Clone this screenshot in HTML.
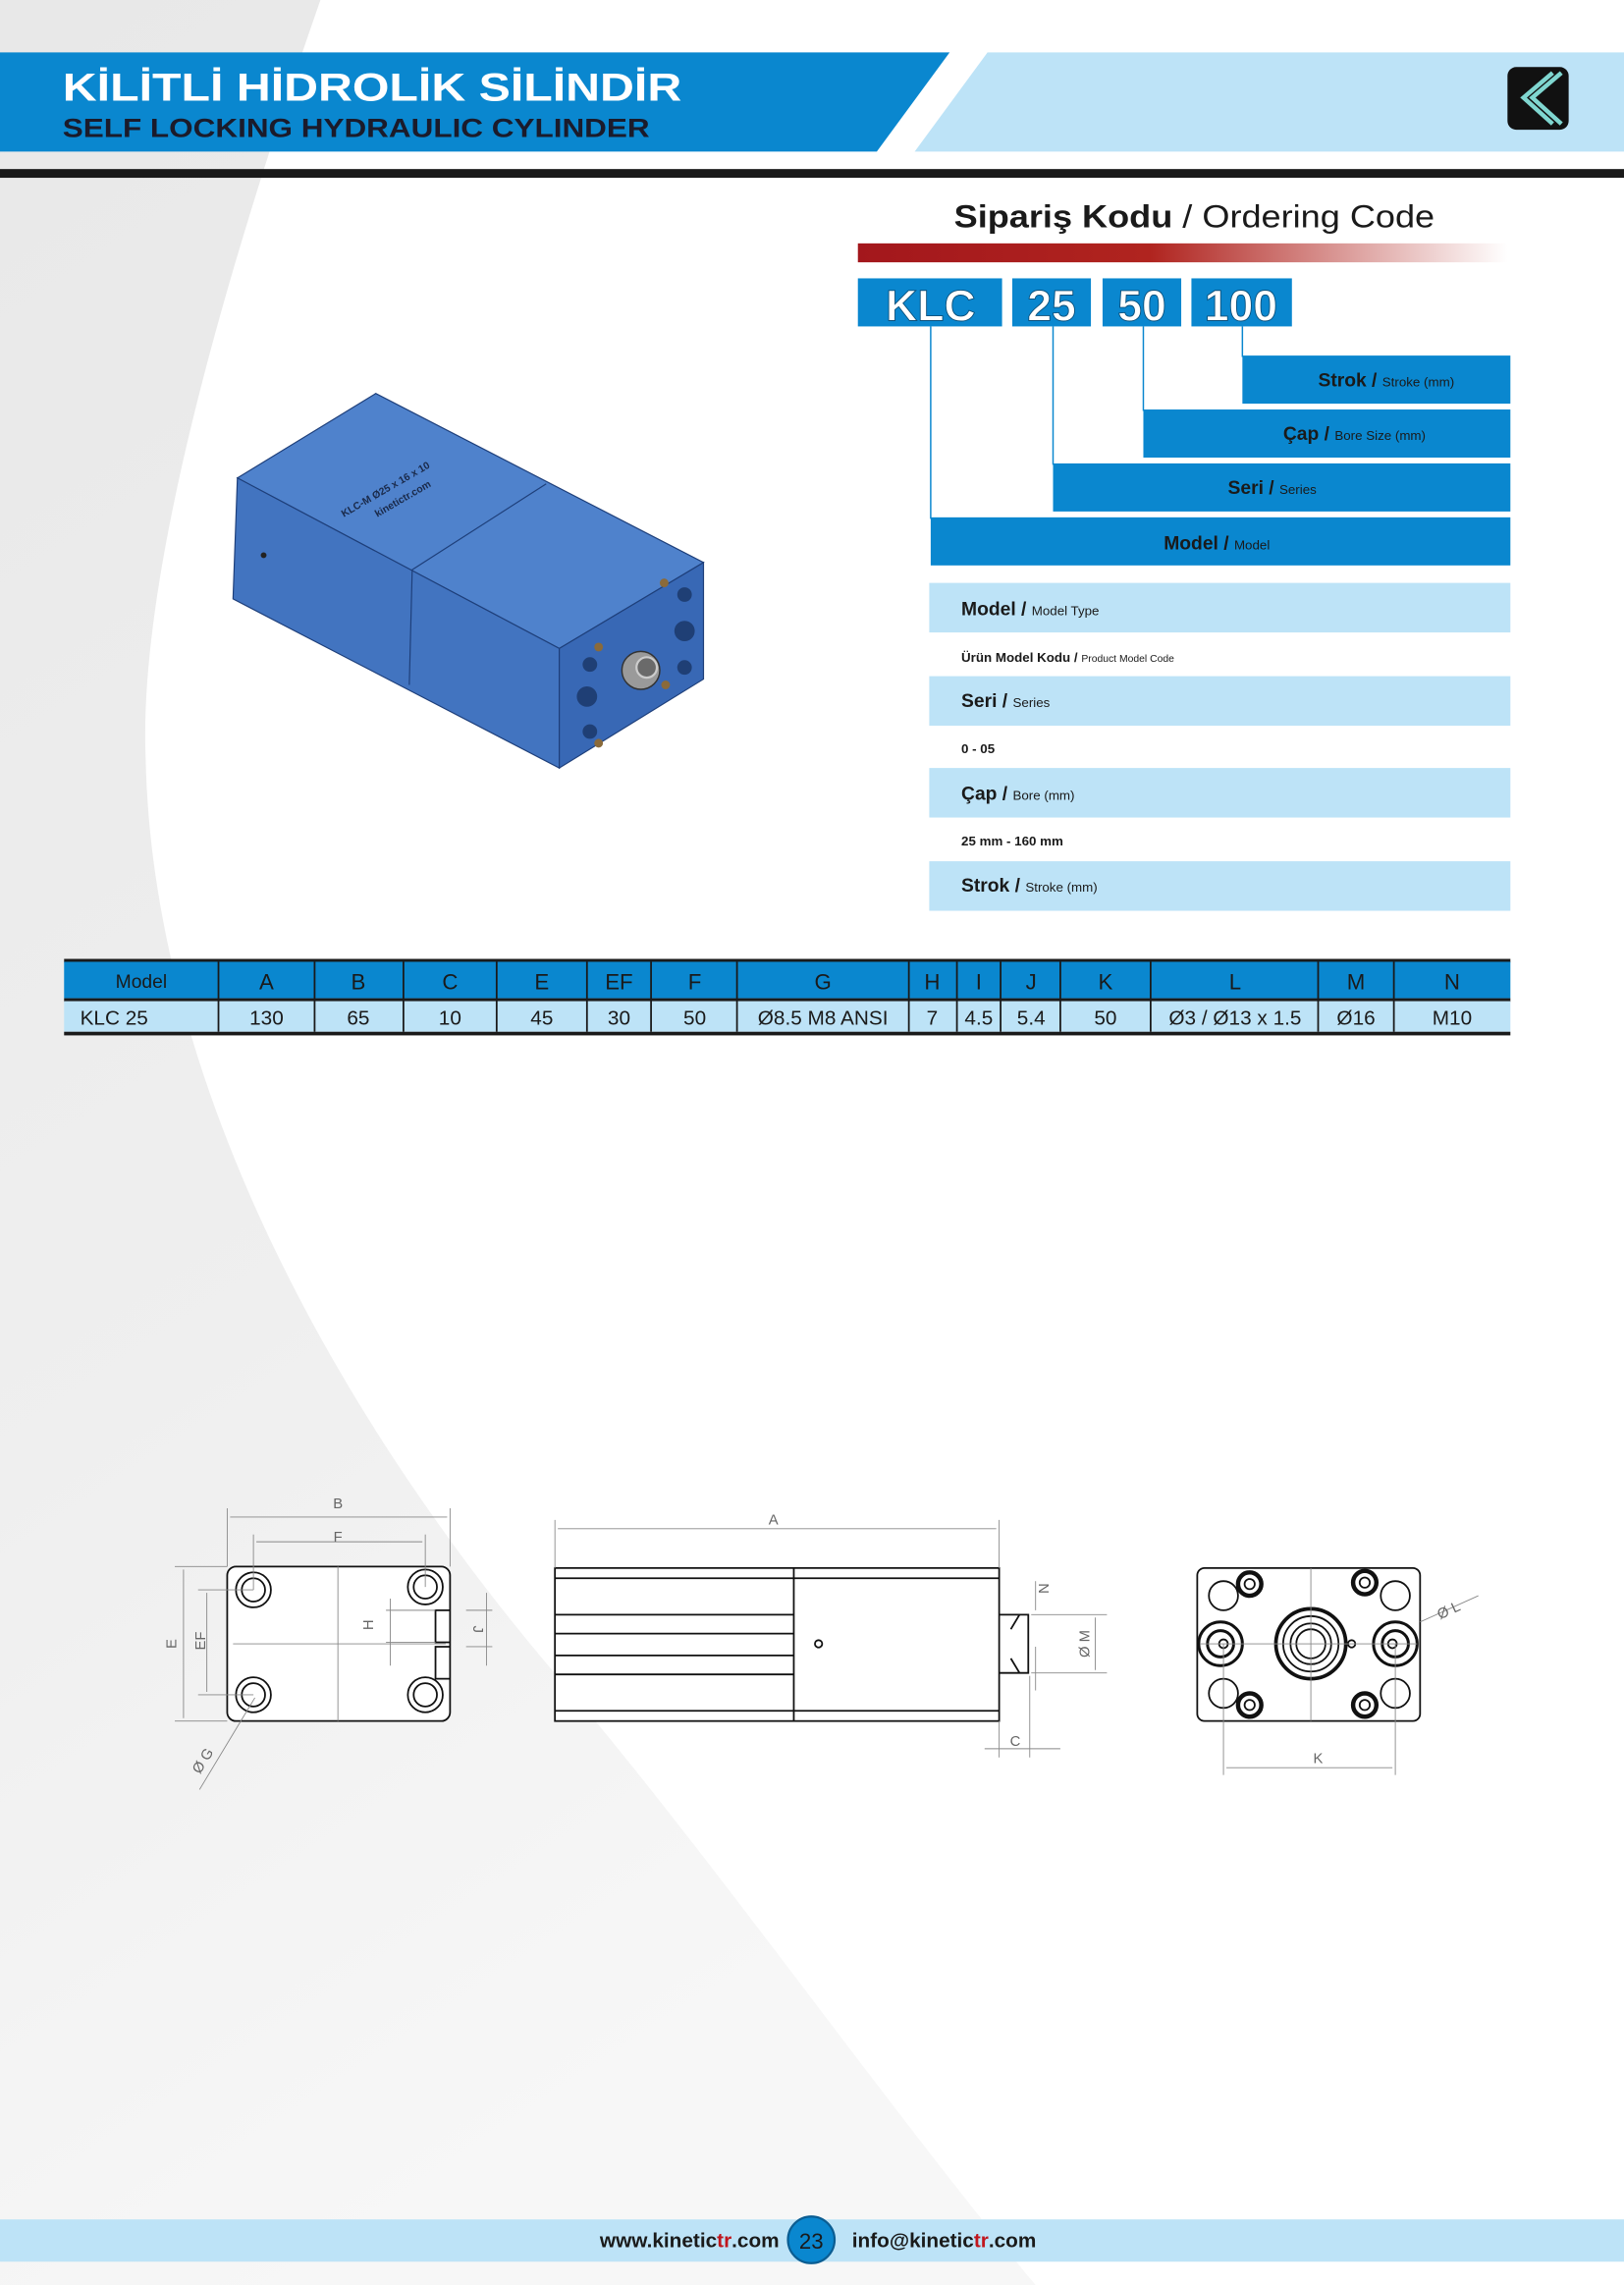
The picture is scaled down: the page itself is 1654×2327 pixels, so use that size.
<!DOCTYPE html>
<html><head><meta charset="utf-8"><style>
html,body{margin:0;padding:0;background:#fff;width:1654px;height:2327px;overflow:hidden}
svg{display:block}
text{font-family:"Liberation Sans","DejaVu Sans",sans-serif}
</style></head><body>
<svg width="1654" height="2327" viewBox="0 0 1115 1568" preserveAspectRatio="none" xmlns="http://www.w3.org/2000/svg">
<defs>
<linearGradient id="rg" x1="0" x2="1"><stop offset="0" stop-color="#a3171c"/><stop offset="0.45" stop-color="#b0241f"/><stop offset="1" stop-color="#ffffff"/></linearGradient>
<linearGradient id="bg" x1="0" y1="0" x2="0.3" y2="1"><stop offset="0" stop-color="#e8e8e8"/><stop offset="0.6" stop-color="#efefef"/><stop offset="1" stop-color="#f7f7f7"/></linearGradient>
</defs>
<!-- background -->
<rect width="1115" height="1568" fill="#fff"/>
<path d="M0,0 L220,0 C150,200 95,400 100,520 C105,760 250,1000 398,1168 C500,1290 620,1460 711,1568 L0,1568 Z" fill="url(#bg)"/>
<!-- header -->
<polygon points="0,36 652,36 602,104 0,104" fill="#0a87cf"/>
<polygon points="678,36 1115,36 1115,104 628,104" fill="#bde3f7"/>
<rect x="1035" y="46" width="42" height="43" rx="6" fill="#111"/>
<polyline points="1066,50 1046,67 1066,85" fill="none" stroke="#7fd6d0" stroke-width="3"/>
<polyline points="1072,50 1052,67 1072,85" fill="none" stroke="#7fd6d0" stroke-width="3"/>
<text x="43" y="69" font-size="27" font-weight="bold" fill="#fff" textLength="425" lengthAdjust="spacingAndGlyphs">KİLİTLİ HİDROLİK SİLİNDİR</text>
<text x="43" y="94" font-size="18" font-weight="bold" fill="#1b1b2b" textLength="403" lengthAdjust="spacingAndGlyphs">SELF LOCKING  HYDRAULIC CYLINDER</text>
<rect x="0" y="116" width="1115" height="6" fill="#1a1a1a"/>
<!-- ordering code -->
<text x="655" y="156" font-size="22" fill="#1a1a1a" textLength="330" lengthAdjust="spacingAndGlyphs"><tspan font-weight="bold">Sipariş Kodu</tspan> / Ordering Code</text>
<rect x="589" y="167" width="446" height="13" fill="url(#rg)"/>
<g fill="#0a87cf">
<rect x="589" y="191" width="99" height="33"/><rect x="695" y="191" width="54" height="33"/>
<rect x="757" y="191" width="54" height="33"/><rect x="818" y="191" width="69" height="33"/>
</g>
<g font-size="30" font-weight="bold" fill="#fff" stroke="#0b4f7a" stroke-width="0.6" text-anchor="middle">
<text x="639" y="220">KLC</text><text x="722" y="220">25</text><text x="784" y="220">50</text><text x="852" y="220">100</text>
</g>
<g stroke="#0a87cf" stroke-width="1" fill="none">
<line x1="639" y1="224" x2="639" y2="356"/><line x1="723" y1="224" x2="723" y2="319"/>
<line x1="785" y1="224" x2="785" y2="282"/><line x1="853" y1="224" x2="853" y2="245"/>
</g>
<g fill="#0a87cf">
<rect x="853" y="244" width="184" height="33"/><rect x="785" y="281" width="252" height="33"/>
<rect x="723" y="318" width="314" height="33"/><rect x="639" y="355" width="398" height="33"/>
</g>
<g fill="#1a1a1a">
<text x="905" y="265" font-size="13" font-weight="bold">Strok / <tspan font-size="9" font-weight="normal">Stroke (mm)</tspan></text>
<text x="881" y="302" font-size="13" font-weight="bold">Çap / <tspan font-size="9" font-weight="normal">Bore Size (mm)</tspan></text>
<text x="843" y="339" font-size="13" font-weight="bold">Seri / <tspan font-size="9" font-weight="normal">Series</tspan></text>
<text x="799" y="377" font-size="13" font-weight="bold">Model / <tspan font-size="9" font-weight="normal">Model</tspan></text>
</g>
<g fill="#bde3f7">
<rect x="638" y="400" width="399" height="34"/><rect x="638" y="464" width="399" height="34"/>
<rect x="638" y="527" width="399" height="34"/><rect x="638" y="591" width="399" height="34"/>
</g>
<g fill="#1a1a1a">
<text x="660" y="422" font-size="13" font-weight="bold">Model / <tspan font-size="9" font-weight="normal">Model Type</tspan></text>
<text x="660" y="454" font-size="9" font-weight="bold">Ürün Model Kodu / <tspan font-size="7" font-weight="normal">Product Model Code</tspan></text>
<text x="660" y="485" font-size="13" font-weight="bold">Seri / <tspan font-size="9" font-weight="normal">Series</tspan></text>
<text x="660" y="517" font-size="9" font-weight="bold">0 - 05</text>
<text x="660" y="549" font-size="13" font-weight="bold">Çap / <tspan font-size="9" font-weight="normal">Bore (mm)</tspan></text>
<text x="660" y="580" font-size="9" font-weight="bold">25 mm - 160 mm</text>
<text x="660" y="612" font-size="13" font-weight="bold">Strok / <tspan font-size="9" font-weight="normal">Stroke (mm)</tspan></text>
</g>
<!-- product -->
<polygon points="163,328 258,270 483,386 384,445" fill="#4f82cc" stroke="#1e3f7a" stroke-width="0.8"/>
<polygon points="163,328 384,445 384,527 160,411" fill="#4274c0" stroke="#1e3f7a" stroke-width="0.8"/>
<polygon points="384,445 483,386 483,466 384,527" fill="#3868b5" stroke="#1e3f7a" stroke-width="0.8"/>
<polyline points="375,332 283,391 281,470" fill="none" stroke="#1e3f7a" stroke-width="0.8"/>
<circle cx="181" cy="381" r="2" fill="#222"/>
<text x="0" y="0" font-size="7" font-weight="bold" fill="#1a2a4a" transform="translate(236,355) rotate(-30)">KLC-M Ø25 x 16 x 10</text>
<text x="0" y="0" font-size="7" font-weight="bold" fill="#1a2a4a" transform="translate(259,355) rotate(-30)">kinetictr.com</text>
<g fill="#1f3f75">
<circle cx="405" cy="456" r="5"/><circle cx="470" cy="408" r="5"/><circle cx="405" cy="502" r="5"/><circle cx="470" cy="458" r="5"/>
<circle cx="403" cy="478" r="7"/><circle cx="470" cy="433" r="7"/>
</g>
<g fill="#8a6a3a"><circle cx="411" cy="444" r="3"/><circle cx="456" cy="400" r="3"/><circle cx="411" cy="510" r="3"/><circle cx="457" cy="470" r="3"/></g>
<circle cx="440" cy="460" r="13" fill="#9a9a9a" stroke="#333" stroke-width="1"/>
<circle cx="444" cy="458" r="7" fill="#6a6a6a" stroke="#ccc" stroke-width="1.5"/>
<!-- table -->
<rect x="44" y="658" width="993" height="2.5" fill="#1a1a1a"/>
<rect x="44" y="660" width="993" height="25" fill="#0a87cf"/>
<rect x="44" y="685" width="993" height="2.5" fill="#1a1a1a"/>
<rect x="44" y="687" width="993" height="21" fill="#bde3f7"/>
<rect x="44" y="708" width="993" height="2.5" fill="#1a1a1a"/>
<g stroke="#1a1a1a" stroke-width="1.2">
<line x1="150" y1="660" x2="150" y2="708"/><line x1="216" y1="660" x2="216" y2="708"/><line x1="277" y1="660" x2="277" y2="708"/>
<line x1="341" y1="660" x2="341" y2="708"/><line x1="403" y1="660" x2="403" y2="708"/><line x1="447" y1="660" x2="447" y2="708"/>
<line x1="506" y1="660" x2="506" y2="708"/><line x1="624" y1="660" x2="624" y2="708"/><line x1="657" y1="660" x2="657" y2="708"/>
<line x1="687" y1="660" x2="687" y2="708"/><line x1="728" y1="660" x2="728" y2="708"/><line x1="790" y1="660" x2="790" y2="708"/>
<line x1="905" y1="660" x2="905" y2="708"/><line x1="957" y1="660" x2="957" y2="708"/>
</g>
<g font-size="15" fill="#1a1a1a" text-anchor="middle">
<text x="97" y="678" font-size="13">Model</text><text x="183" y="679">A</text><text x="246" y="679">B</text><text x="309" y="679">C</text>
<text x="372" y="679">E</text><text x="425" y="679">EF</text><text x="477" y="679">F</text><text x="565" y="679">G</text>
<text x="640" y="679">H</text><text x="672" y="679">I</text><text x="708" y="679">J</text><text x="759" y="679">K</text>
<text x="848" y="679">L</text><text x="931" y="679">M</text><text x="997" y="679">N</text>
</g>
<g font-size="14" fill="#1a1a1a" text-anchor="middle">
<text x="55" y="703" text-anchor="start">KLC 25</text><text x="183" y="703">130</text><text x="246" y="703">65</text><text x="309" y="703">10</text>
<text x="372" y="703">45</text><text x="425" y="703">30</text><text x="477" y="703">50</text><text x="565" y="703">Ø8.5 M8 ANSI</text>
<text x="640" y="703">7</text><text x="672" y="703">4.5</text><text x="708" y="703">5.4</text><text x="759" y="703">50</text>
<text x="848" y="703">Ø3 / Ø13 x 1.5</text><text x="931" y="703">Ø16</text><text x="997" y="703">M10</text>
</g>
<!-- drawings: left view -->
<g fill="none" stroke="#111" stroke-width="1.2">
<rect x="156" y="1075" width="153" height="106" rx="6" fill="#fff"/>
<circle cx="174" cy="1091" r="12"/><circle cx="174" cy="1091" r="8"/>
<circle cx="292" cy="1089" r="12"/><circle cx="292" cy="1089" r="8"/>
<circle cx="174" cy="1163" r="12"/><circle cx="174" cy="1163" r="8"/>
<circle cx="292" cy="1163" r="12"/><circle cx="292" cy="1163" r="8"/>
<path d="M309,1105 h-10 v22 h10 M309,1130 h-10 v22 h10"/>
</g>
<g stroke="#888" stroke-width="0.6" fill="none">
<line x1="232" y1="1075" x2="232" y2="1181"/><line x1="160" y1="1128" x2="306" y2="1128"/>
<line x1="156" y1="1035" x2="156" y2="1075"/><line x1="309" y1="1035" x2="309" y2="1075"/>
<line x1="158" y1="1041" x2="307" y2="1041"/>
<line x1="174" y1="1053" x2="174" y2="1091"/><line x1="292" y1="1053" x2="292" y2="1089"/>
<line x1="176" y1="1058" x2="290" y2="1058"/>
<line x1="120" y1="1075" x2="156" y2="1075"/><line x1="120" y1="1181" x2="156" y2="1181"/>
<line x1="126" y1="1077" x2="126" y2="1179"/>
<line x1="136" y1="1091" x2="174" y2="1091"/><line x1="136" y1="1163" x2="174" y2="1163"/>
<line x1="142" y1="1093" x2="142" y2="1161"/>
<line x1="265" y1="1105" x2="299" y2="1105"/><line x1="265" y1="1127" x2="299" y2="1127"/>
<line x1="268" y1="1097" x2="268" y2="1143"/>
<line x1="320" y1="1105" x2="338" y2="1105"/><line x1="320" y1="1130" x2="338" y2="1130"/>
<line x1="334" y1="1093" x2="334" y2="1143"/>
<line x1="175" y1="1165" x2="137" y2="1228"/>
</g>
<g font-size="10" fill="#666" text-anchor="middle">
<text x="232" y="1035">B</text><text x="232" y="1058">F</text>
<text transform="translate(121,1128) rotate(-90)">E</text><text transform="translate(141,1126) rotate(-90)">EF</text>
<text transform="translate(256,1115) rotate(-90)">H</text><text transform="translate(325,1118) rotate(90)">J</text>
<text transform="translate(142,1210) rotate(-58)">Ø G</text>
</g>
<!-- middle view -->
<g fill="none" stroke="#111" stroke-width="1.2">
<rect x="381" y="1076" width="305" height="105" fill="#fff"/>
<line x1="545" y1="1076" x2="545" y2="1181"/>
<line x1="381" y1="1083" x2="686" y2="1083"/><line x1="381" y1="1174" x2="686" y2="1174"/>
<line x1="381" y1="1108" x2="545" y2="1108"/><line x1="381" y1="1121" x2="545" y2="1121"/>
<line x1="381" y1="1136" x2="545" y2="1136"/><line x1="381" y1="1149" x2="545" y2="1149"/>
<circle cx="562" cy="1128" r="2.5"/>
<path d="M686,1108 h20 v40 h-20 M700,1108 l-6,10 M700,1148 l-6,-10"/>
</g>
<g stroke="#888" stroke-width="0.6" fill="none">
<line x1="381" y1="1043" x2="381" y2="1076"/><line x1="686" y1="1043" x2="686" y2="1076"/>
<line x1="383" y1="1049" x2="684" y2="1049"/>
<line x1="708" y1="1108" x2="760" y2="1108"/><line x1="708" y1="1148" x2="760" y2="1148"/>
<line x1="752" y1="1110" x2="752" y2="1146"/>
<line x1="711" y1="1085" x2="711" y2="1105"/><line x1="711" y1="1130" x2="711" y2="1160"/>
<line x1="686" y1="1181" x2="686" y2="1206"/><line x1="707" y1="1150" x2="707" y2="1206"/>
<line x1="676" y1="1200" x2="728" y2="1200"/>
</g>
<g font-size="10" fill="#666" text-anchor="middle">
<text x="531" y="1046">A</text><text transform="translate(720,1090) rotate(-90)">N</text>
<text transform="translate(748,1128) rotate(-90)">Ø M</text><text x="697" y="1198">C</text>
</g>
<!-- right view -->
<g fill="none" stroke="#111" stroke-width="1.2">
<rect x="822" y="1076" width="153" height="105" rx="5" fill="#fff"/>
<circle cx="900" cy="1128" r="24" stroke-width="2.5"/><circle cx="900" cy="1128" r="19"/><circle cx="900" cy="1128" r="14"/><circle cx="900" cy="1128" r="10"/>
<circle cx="838" cy="1128" r="15" stroke-width="2"/><circle cx="838" cy="1128" r="9" stroke-width="2"/><circle cx="840" cy="1128" r="3"/>
<circle cx="958" cy="1128" r="15" stroke-width="2"/><circle cx="958" cy="1128" r="9" stroke-width="2"/><circle cx="956" cy="1128" r="3"/>
<circle cx="858" cy="1087" r="8" stroke-width="3"/><circle cx="858" cy="1087" r="3.5"/>
<circle cx="937" cy="1086" r="8" stroke-width="3"/><circle cx="937" cy="1086" r="3.5"/>
<circle cx="858" cy="1170" r="8" stroke-width="3"/><circle cx="858" cy="1170" r="3.5"/>
<circle cx="937" cy="1170" r="8" stroke-width="3"/><circle cx="937" cy="1170" r="3.5"/>
<circle cx="840" cy="1095" r="10"/><circle cx="958" cy="1095" r="10"/>
<circle cx="840" cy="1162" r="10"/><circle cx="958" cy="1162" r="10"/>
<circle cx="928" cy="1128" r="2.5"/>
</g>
<g stroke="#888" stroke-width="0.6" fill="none">
<line x1="900" y1="1076" x2="900" y2="1181"/><line x1="824" y1="1128" x2="973" y2="1128"/>
<line x1="840" y1="1128" x2="840" y2="1218"/><line x1="958" y1="1128" x2="958" y2="1218"/>
<line x1="842" y1="1213" x2="956" y2="1213"/>
<line x1="975" y1="1113" x2="1015" y2="1095"/>
</g>
<g font-size="10" fill="#666" text-anchor="middle">
<text x="905" y="1210">K</text><text transform="translate(996,1108) rotate(-25)">Ø L</text>
</g>
<!-- footer -->
<rect x="0" y="1523" width="1115" height="29" fill="#bde3f7"/>
<circle cx="557" cy="1537" r="16" fill="#0a87cf" stroke="#0b5d92" stroke-width="1.5"/>
<text x="557" y="1543" font-size="15" fill="#1a1a1a" text-anchor="middle">23</text>
<text x="535" y="1542" font-size="14" font-weight="bold" fill="#1a1a1a" text-anchor="end">www.kinetic<tspan fill="#c0161d">tr</tspan>.com</text>
<text x="585" y="1542" font-size="14" font-weight="bold" fill="#1a1a1a">info@kinetic<tspan fill="#c0161d">tr</tspan>.com</text>
</svg>
</body></html>
